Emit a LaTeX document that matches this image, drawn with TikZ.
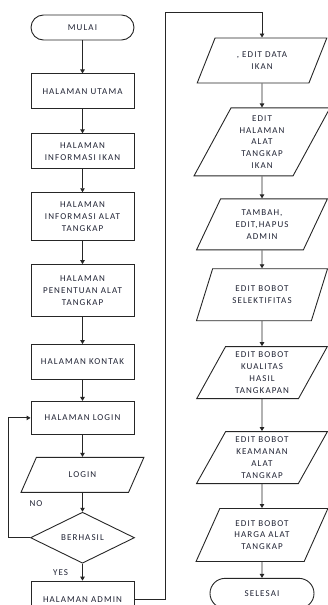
\documentclass[tikz,border=0pt]{standalone}
\usepackage{fontspec}
\newfontfamily\flowfont[LetterSpace=12]{Carlito}
\usetikzlibrary{arrows.meta,positioning,shapes.geometric}
\definecolor{linec}{HTML}{262626}
\definecolor{textc}{HTML}{1F2233}

\begin{document}
\begin{tikzpicture}[x=1pt,y=1pt,font=\flowfont\fontsize{9}{11.8}\selectfont,>={Triangle[length=4pt,width=4.5pt]},
  proc/.style={draw=linec,line width=0.9pt,align=center,text=textc,minimum width=103pt,minimum height=35pt,inner sep=1pt},
  term/.style={proc,rounded corners=12.5pt,minimum height=25pt},
  io/.style={trapezium,trapezium left angle=63,trapezium right angle=117,trapezium stretches=true,draw=linec,line width=0.9pt,align=center,text=textc,minimum width=132pt,minimum height=52pt,inner sep=1pt},
  dec/.style={diamond,draw=linec,line width=0.9pt,text=textc,minimum width=104pt,minimum height=51pt,inner sep=0pt},
  arr/.style={->,draw=linec,line width=0.9pt},
  lbl/.style={text=textc,inner sep=0pt}]
\useasboundingbox (0,0) rectangle (328,-605);
% kolom kiri
\node[term] (mulai) at (82.5,-27.5) {MULAI};
\node[proc,below=33pt of mulai] (utama) {HALAMAN UTAMA};
\node[proc,below=24pt of utama] (infoikan) {HALAMAN\\INFORMASI IKAN};
\node[proc,below=23pt of infoikan,minimum height=48pt] (infoalat) {HALAMAN\\INFORMASI ALAT\\TANGKAP};
\node[proc,below=23pt of infoalat,minimum height=52pt] (tentu) {HALAMAN\\PENENTUAN ALAT\\TANGKAP};
\node[proc,below=27pt of tentu] (kontak) {HALAMAN KONTAK};
\node[proc,below=21pt of kontak,minimum height=33pt] (hlogin) {HALAMAN LOGIN};
\node[io,below=22pt of hlogin,minimum height=35pt,minimum width=123pt,trapezium left angle=58,trapezium right angle=122] (login) {LOGIN};
\node[dec,below=19pt of login] (cek) {BERHASIL};
\node[proc,below=17pt of cek,minimum height=36pt] (admin) {HALAMAN ADMIN};
\draw[arr] (mulai) -- (utama);
\draw[arr] (utama) -- (infoikan);
\draw[arr] (infoikan) -- (infoalat);
\draw[arr] (infoalat) -- (tentu);
\draw[arr] (tentu) -- (kontak);
\draw[arr] (kontak) -- (hlogin);
\draw[arr] (hlogin) -- (login);
\draw[arr] (login) -- (cek);
\draw[arr] (cek) -- node[lbl,left=14pt] (yes) {YES} (admin);
\draw[arr] (cek.west) -- ++(-22,0) |- (hlogin.west);
\node[lbl] (no) at (36,-504) {NO};
% kolom kanan
\node[io,minimum height=45pt,minimum width=130pt] (edata) at (262,-60.5) {, EDIT DATA\\IKAN};
\node[io,below=24pt of edata,minimum height=68pt,minimum width=136pt] (ehal) {EDIT\\HALAMAN\\ALAT\\TANGKAP\\IKAN};
\node[io,below=22pt of ehal,minimum height=51pt] (tambah) {TAMBAH,\\EDIT,HAPUS\\ADMIN};
\node[io,below=18pt of tambah] (selek) {EDIT BOBOT\\SELEKTIFITAS};
\node[io,below=25pt of selek] (kual) {EDIT BOBOT\\KUALITAS\\HASIL\\TANGKAPAN};
\node[io,below=32pt of kual] (aman) {EDIT BOBOT\\KEAMANAN\\ALAT\\TANGKAP};
\node[io,below=24pt of aman,minimum height=53pt] (harga) {EDIT BOBOT\\HARGA ALAT\\TANGKAP};
\node[term,below=16pt of harga,minimum width=104pt,minimum height=30pt,rounded corners=15pt] (selesai) {SELESAI};
\coordinate (atas) at (165,-12);
\draw[arr] (admin.east) -| (atas) -| (edata.north);
\draw[arr] (edata) -- (ehal);
\draw[arr] (ehal) -- (tambah);
\draw[arr] (tambah) -- (selek);
\draw[arr] (selek) -- (kual);
\draw[arr] (kual) -- (aman);
\draw[arr] (aman) -- (harga);
\draw[arr] (harga) -- (selesai);
\end{tikzpicture}
\end{document}
